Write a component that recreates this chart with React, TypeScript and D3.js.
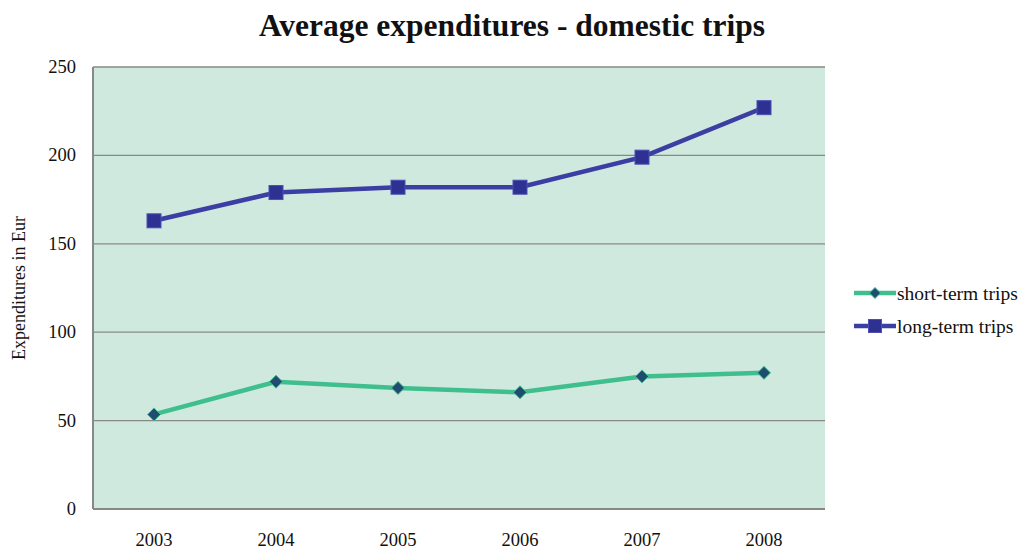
import React from "react";
import * as d3 from "d3";

const years = ["2003", "2004", "2005", "2006", "2007", "2008"];
const shortTerm = [53.5, 72, 68.5, 66, 75, 77];
const longTerm = [163, 179, 182, 182, 199, 227];
const yTicks = [0, 50, 100, 150, 200, 250];
const seriesNames = ["short-term trips", "long-term trips"];

export default function App() {
  const W = 1023, H = 550;
  const left = 93, right = 825, top = 67, bottom = 509;
  const x = d3.scaleBand<string>().domain(years).range([left, right]);
  const y = d3.scaleLinear().domain([0, 250]).range([bottom, top]);
  const cx = (d: string) => (x(d) as number) + x.bandwidth() / 2;
  const line = d3.line<number>().x((_, i) => cx(years[i])).y((v) => y(v));
  const font = "'Liberation Serif', 'Times New Roman', serif";
  const shortColor = "#40bf8e";
  const longColor = "#3b3fa3";
  const diamond = (px: number, py: number, r: number) =>
    `M${px},${py - r}L${px + r},${py}L${px},${py + r}L${px - r},${py}Z`;
  return (
    <svg width={W} height={H} style={{ position: "absolute", left: 0, top: 0 }} fontFamily={font}>
      <rect x={0} y={0} width={W} height={H} fill="#fff" />
      <text x={512} y={36} textAnchor="middle" fontSize={31.5} fontWeight="bold" fill="#111">
        Average expenditures - domestic trips
      </text>
      <rect x={left} y={top} width={right - left} height={bottom - top} fill="#cfe9de" />
      {yTicks.map((t) => (
        <g key={t}>
          {t > 0 && <line x1={left} x2={right} y1={y(t)} y2={y(t)} stroke="#888" strokeWidth={1.3} />}
          <text x={76} y={y(t) + 6} textAnchor="end" fontSize={18.5} fill="#111">{t}</text>
        </g>
      ))}
      <line x1={left} x2={left} y1={top} y2={bottom} stroke="#888" strokeWidth={2} />
      <line x1={left} x2={right} y1={bottom} y2={bottom} stroke="#888" strokeWidth={2} />
      {years.map((yr) => (
        <text key={yr} x={cx(yr)} y={546} textAnchor="middle" fontSize={18.5} fill="#111">{yr}</text>
      ))}
      <text transform={`translate(25,${(top + bottom) / 2}) rotate(-90)`} textAnchor="middle" fontSize={18} fill="#111">
        Expenditures in Eur
      </text>
      <path d={line(shortTerm) as string} fill="none" stroke={shortColor} strokeWidth={4.5} />
      {shortTerm.map((v, i) => (
        <path key={i} d={diamond(cx(years[i]), y(v), 6.5)} fill="#1f4d70" stroke={shortColor} strokeWidth={1} />
      ))}
      <path d={line(longTerm) as string} fill="none" stroke={longColor} strokeWidth={4.5} />
      {longTerm.map((v, i) => (
        <rect key={i} x={cx(years[i]) - 7} y={y(v) - 7} width={14} height={14} fill="#2e3192" stroke="#4a4fb5" strokeWidth={1} />
      ))}
      <g>
        <line x1={854} x2={896} y1={293} y2={293} stroke={shortColor} strokeWidth={4.5} />
        <path d={diamond(875, 293, 5.5)} fill="#1f4d70" stroke={shortColor} strokeWidth={1} />
        <text x={897} y={299.5} fontSize={19.5} fill="#111">{seriesNames[0]}</text>
        <line x1={854} x2={896} y1={326} y2={326} stroke={longColor} strokeWidth={4.5} />
        <rect x={868.5} y={319.5} width={13} height={13} fill="#2e3192" stroke="#4a4fb5" strokeWidth={1} />
        <text x={897} y={332.5} fontSize={19.5} fill="#111">{seriesNames[1]}</text>
      </g>
    </svg>
  );
}
